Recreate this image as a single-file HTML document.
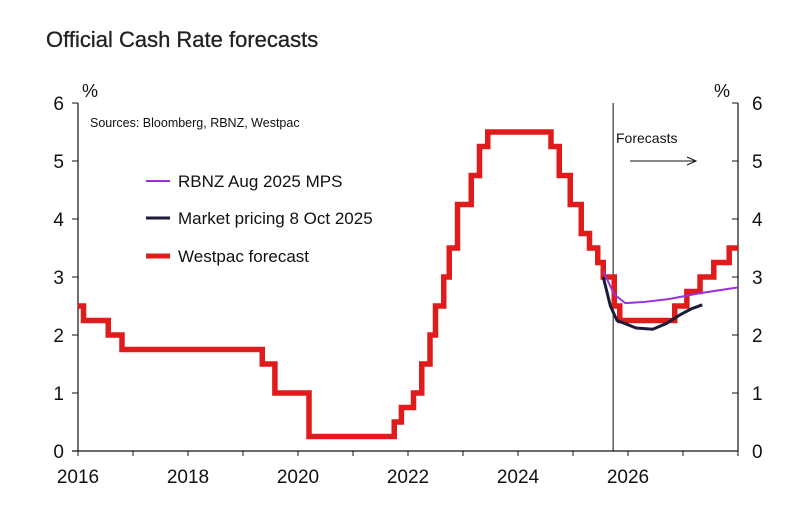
<!DOCTYPE html>
<html><head><meta charset="utf-8"><style>
body{margin:0;background:#fff;width:809px;height:509px;overflow:hidden;font-family:"Liberation Sans",Arial,sans-serif}
</style></head><body>
<svg id="c" width="809" height="509" xmlns="http://www.w3.org/2000/svg" font-family="Liberation Sans, Arial, sans-serif">
<text x="46" y="47" font-size="22" fill="#222" stroke="#222" stroke-width="0.3">Official Cash Rate forecasts</text>
<text x="82" y="97" font-size="18" fill="#111">%</text>
<text x="714" y="97" font-size="18" fill="#111">%</text>
<text x="90" y="127" font-size="12.5" fill="#111">Sources: Bloomberg, RBNZ, Westpac</text>
<text x="616" y="143" font-size="14" fill="#111">Forecasts</text>
<line x1="630" y1="161" x2="695" y2="161" stroke="#111" stroke-width="1"/>
<path d="M687,157 L696,161 L687,165" fill="none" stroke="#111" stroke-width="1"/>
<g>
<line x1="146" y1="181" x2="170" y2="181" stroke="#9b30d9" stroke-width="2"/>
<text x="178" y="187" font-size="17" fill="#111">RBNZ Aug 2025 MPS</text>
<line x1="146" y1="218" x2="170" y2="218" stroke="#1a1a3a" stroke-width="3"/>
<text x="178" y="224" font-size="17" fill="#111">Market pricing 8 Oct 2025</text>
<line x1="146" y1="256" x2="170" y2="256" stroke="#e01b1b" stroke-width="5"/>
<text x="178" y="262" font-size="17" fill="#111">Westpac forecast</text>
</g>
<g id="axes"></g>
<g id="series"></g>
</svg>
<script>
const yTicks=[0,1,2,3,4,5,6];
const xLabels=[2016,2018,2020,2022,2024,2026];
const westpacDates=[2016.0,2016.1,2016.55,2016.8,2019.35,2019.58,2020.2,2021.75,2021.88,2022.1,2022.25,2022.4,2022.5,2022.65,2022.75,2022.9,2023.15,2023.3,2023.45,2024.6,2024.75,2024.95,2025.15,2025.3,2025.45,2025.55,2025.75,2025.85,2026.85,2027.07,2027.31,2027.56,2027.84];
const westpacValues=[2.5,2.25,2.0,1.75,1.5,1.0,0.25,0.5,0.75,1.0,1.5,2.0,2.5,3.0,3.5,4.25,4.75,5.25,5.5,5.25,4.75,4.25,3.75,3.5,3.25,3.0,2.5,2.25,2.5,2.75,3.0,3.25,3.5];
const rbnzDates=[2025.55,2025.75,2025.95,2026.3,2026.75,2027.3,2027.85,2028.0];
const rbnzValues=[3.1,2.7,2.55,2.57,2.62,2.72,2.8,2.82];
const mktDates=[2025.55,2025.68,2025.8,2026.15,2026.45,2026.7,2026.95,2027.15,2027.35];
const mktValues=[3.0,2.5,2.25,2.12,2.1,2.2,2.35,2.45,2.52];
const X=y=>78+(y-2016)*55, Y=v=>451-v*58;
const NS='http://www.w3.org/2000/svg';
function mk(t,a,p){const e=document.createElementNS(NS,t);for(const k in a)e.setAttribute(k,a[k]);p.appendChild(e);return e;}
const ax=document.getElementById('axes'), se=document.getElementById('series');
let e;
e=mk('line',{x1:X(2016),y1:Y(6),x2:X(2016),y2:Y(0),stroke:'#111','stroke-width':1.2},ax);


e=mk('line',{x1:X(2028),y1:Y(6),x2:X(2028),y2:Y(0),stroke:'#111','stroke-width':1.2},ax);


e=mk('line',{x1:X(2016)-6,y1:Y(0),x2:X(2028),y2:Y(0),stroke:'#111','stroke-width':1.2},ax);


e=mk('line',{x1:X(2025.73),y1:Y(6),x2:X(2025.73),y2:Y(0),stroke:'#111','stroke-width':1},ax);


yTicks.forEach(v=>{
 mk('line',{x1:X(2016)-6,y1:Y(v),x2:X(2016),y2:Y(v),stroke:'#111'},ax);
 mk('line',{x1:X(2028)-6,y1:Y(v),x2:X(2028),y2:Y(v),stroke:'#111'},ax);
 e=mk('text',{x:X(2016)-14,y:Y(v)+7,'font-size':19,'text-anchor':'end',fill:'#111'},ax);e.textContent=v;
 
 
 e=mk('text',{x:X(2028)+14,y:Y(v)+7,'font-size':19,fill:'#111'},ax);e.textContent=v;
 
 
});
for(let y=2016;y<=2028;y++) mk('line',{x1:X(y),y1:Y(0),x2:X(y),y2:Y(0)+5,stroke:'#111'},ax);
xLabels.forEach(y=>{e=mk('text',{x:X(y),y:Y(0)+32,'font-size':19,'text-anchor':'middle',fill:'#111'},ax);e.textContent=y;
 
 });
let d='';
westpacDates.forEach((t,i)=>{
 if(i===0)d+=`M${X(t)},${Y(westpacValues[0])}`;
 else d+=` L${X(t)},${Y(westpacValues[i-1])} L${X(t)},${Y(westpacValues[i])}`;
});
d+=` L${X(2028)},${Y(westpacValues[westpacValues.length-1])}`;
e=mk('path',{d:d,fill:'none',stroke:'#e01b1b','stroke-width':5.5,'stroke-linejoin':'miter'},se);


e=mk('polyline',{points:rbnzDates.map((t,i)=>X(t)+','+Y(rbnzValues[i])).join(' '),fill:'none',stroke:'#9b30d9','stroke-width':2},se);


e=mk('polyline',{points:mktDates.map((t,i)=>X(t)+','+Y(mktValues[i])).join(' '),fill:'none',stroke:'#1a1a3a','stroke-width':3},se);


</script>
</body></html>
